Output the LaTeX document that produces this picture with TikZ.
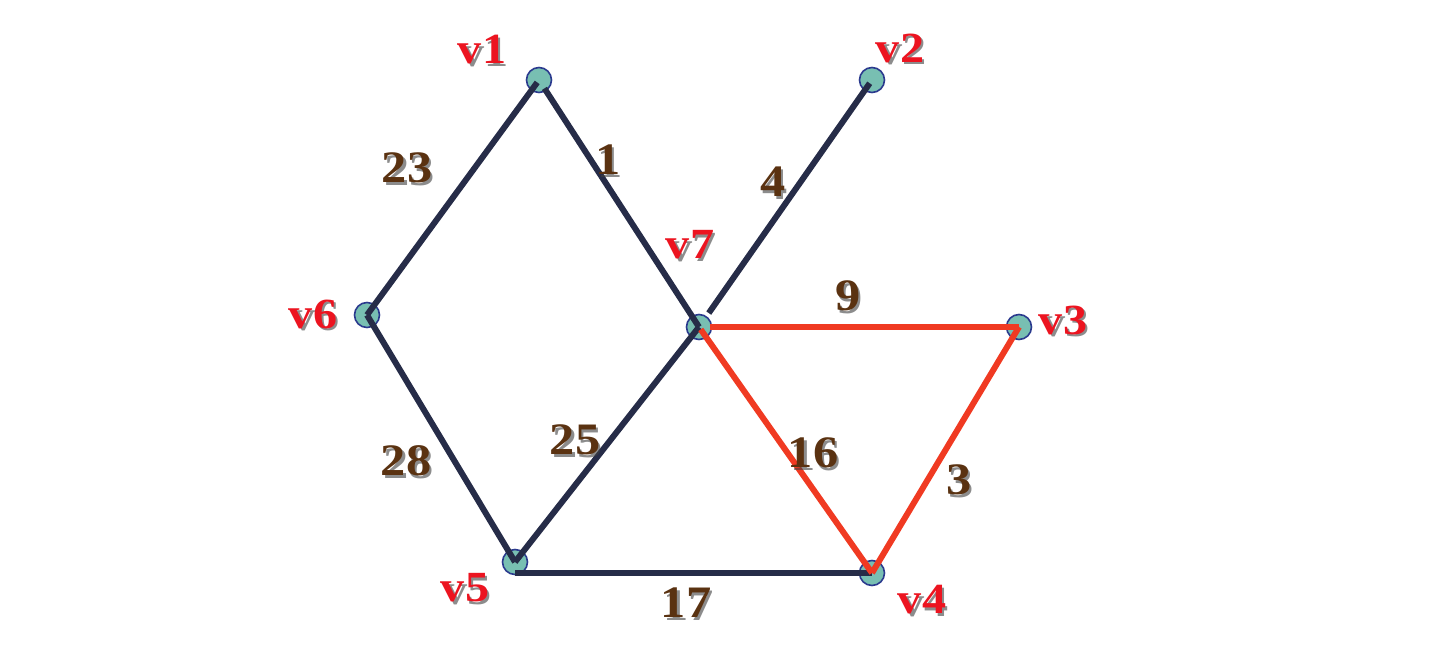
\documentclass[tikz,border=0pt]{standalone}
\usepackage{fontspec}
\setmainfont{Liberation Serif}
\definecolor{edgedark}{HTML}{262C48}
\definecolor{edgered}{HTML}{F03A22}
\definecolor{nodefill}{HTML}{78BFB2}
\definecolor{nodeline}{HTML}{2B3A8E}
\definecolor{lblred}{HTML}{EC1420}
\definecolor{wbrown}{HTML}{5A3211}
\tikzset{
  vtx/.style={circle,fill=nodefill,draw=nodeline,line width=1.6pt,minimum size=25pt,inner sep=0pt},
  dk/.style={draw=edgedark,line width=6pt},
  rd/.style={draw=edgered,line width=6pt},
  vlbl/.style={text=lblred,font=\fontsize{43}{43}\selectfont\bfseries,xscale=1.12,inner sep=0pt},
  wlbl/.style={text=wbrown,font=\fontsize{45}{45}\selectfont\bfseries,xscale=1.12,inner sep=0pt},
  shd/.style={text=black!75,opacity=0.6,font=\fontsize{45}{45}\selectfont\bfseries,xscale=1.12,inner sep=0pt},
  shdv/.style={text=black!75,opacity=0.6,font=\fontsize{43}{43}\selectfont\bfseries,xscale=1.12,inner sep=0pt}
}
\begin{document}
\begin{tikzpicture}[x=1pt,y=-1pt]
\useasboundingbox (0,0) rectangle (1436,660);
% vertices
\node[vtx] (v1) at (539,80) {};
\node[vtx] (v2) at (872,80) {};
\node[vtx] (v3) at (1019,327) {};
\node[vtx] (v4) at (872,573) {};
\node[vtx] (v5) at (515,562) {};
\node[vtx] (v6) at (367,315) {};
\node[vtx] (v7) at (699,327) {};
% edges
\draw[dk,shorten <=3pt] (v1.center) -- (v6.center);
\draw[dk,shorten <=10pt] (v1.center) -- (v7.center);
\draw[dk,shorten <=4pt,shorten >=17pt] (v2.center) -- (v7.center);
\draw[dk] (v7.center) -- (v5.center);
\draw[dk] (v6.center) -- (v5.center);
\draw[dk] (v5.center |- v4.center) coordinate (v5b) -- (v4.center);
\draw[rd,shorten <=11pt] (v7.center) -- (v3.center);
\draw[rd,shorten <=3pt] (v7.center) -- (v4.center);
\draw[rd] (v3.center) -- (v4.center);
% vertex labels
\foreach \n/\t/\x/\y in {l1/v1/482/50, l2/v2/900/48, l7/v7/690/245, l6/v6/313/314, l3/v3/1063/320, l5/v5/465/588, l4/v4/922/600}{
  \node[shdv] at (\x+2.5,\y+2.5) {\t};
  \node[vlbl] (\n) at (\x,\y) {\t};
}
% weight labels
\foreach \n/\t/\x/\y in {w23/23/407/168, w1/1/608/160, w4/4/773/182, w9/9/848/296, w25/25/575/440, w16/16/813/453, w28/28/406/461, w3/3/959/480, w17/17/686/603}{
  \node[shd] at (\x+2.5,\y+2.5) {\t};
  \node[wlbl] (\n) at (\x,\y) {\t};
}
\end{tikzpicture}
\end{document}
